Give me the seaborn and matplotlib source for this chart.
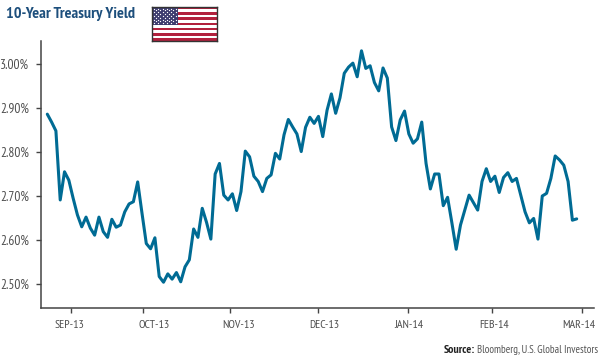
import numpy as np
import pandas as pd
import matplotlib
import matplotlib.pyplot as plt
import seaborn as sns
from matplotlib.patches import Rectangle

matplotlib.use('Agg')

# Yield, one value per trading day
yields = [
    2.886, 2.868, 2.848, 2.691, 2.755, 2.736, 2.695, 2.657, 2.630, 2.652, 2.627, 2.611,
    2.652, 2.619, 2.606, 2.647, 2.629, 2.634, 2.664, 2.682, 2.687, 2.732, 2.661, 2.592,
    2.580, 2.605, 2.517, 2.504, 2.523, 2.511, 2.526, 2.505, 2.539, 2.555, 2.625, 2.606,
    2.672, 2.640, 2.602, 2.750, 2.774, 2.702, 2.691, 2.705, 2.667, 2.710, 2.802, 2.789,
    2.745, 2.733, 2.710, 2.740, 2.748, 2.797, 2.784, 2.839, 2.874, 2.857, 2.841, 2.801,
    2.856, 2.879, 2.865, 2.881, 2.835, 2.895, 2.932, 2.888, 2.923, 2.979, 2.993, 3.002,
    2.971, 3.030, 2.990, 2.996, 2.958, 2.939, 2.991, 2.968, 2.857, 2.826, 2.873, 2.893,
    2.841, 2.820, 2.830, 2.868, 2.774, 2.716, 2.750, 2.750, 2.678, 2.697, 2.639, 2.579,
    2.634, 2.668, 2.702, 2.685, 2.668, 2.733, 2.762, 2.733, 2.745, 2.708, 2.742, 2.753,
    2.733, 2.740, 2.702, 2.664, 2.639, 2.649, 2.602, 2.700, 2.706, 2.740, 2.791, 2.782,
    2.770, 2.733, 2.645, 2.648,
]
month_labels = ['SEP-13', 'OCT-13', 'NOV-13', 'DEC-13', 'JAN-14', 'FEB-14', 'MAR-14']
month_ticks = [5.5, 22.2, 42.4, 62.9, 83.8, 103.4, 124.3]
label_ticks = [5.1, 24.8, 44.5, 64.3, 84.1, 103.9, 123.6]
yield_ticks = [2.5, 2.6, 2.7, 2.8, 2.9, 3.0]

LINE_COLOR = '#006b94'
AXIS_COLOR = '#444444'
TEXT_COLOR = '#4d4d4d'
TITLE_COLOR = '#1d4f7c'

W, H = 600, 360

sns.set_style('white')
# Condensed face like the original, plain sans if it is missing
plt.rcParams['font.family'] = ['PT Sans Narrow', 'Liberation Sans', 'DejaVu Sans']

df = pd.DataFrame({'day': np.arange(len(yields)), 'yield': yields})

fig = plt.figure(figsize=(W / 100, H / 100), dpi=100)
ax = fig.add_axes([40.5 / W, 1 - 307.7 / H, (593.7 - 40.5) / W, (307.7 - 41) / H])

sns.lineplot(data=df, x='day', y='yield', color=LINE_COLOR, linewidth=2.2, ax=ax)

ax.set(xlim=(-1.58, 126.95), ylim=(2.4461, 3.0523), xlabel='', ylabel='')
ax.set_yticks(yield_ticks, labels=[f'{v:.2f}%' for v in yield_ticks])
ax.set_xticks(month_ticks, labels=[''] * len(month_ticks))
ax.set_xticks(label_ticks, labels=month_labels, minor=True)

ax.tick_params('both', which='major', left=True, bottom=True, length=3.5, width=1.0, color=AXIS_COLOR)
ax.tick_params('x', which='minor', bottom=False, labelsize=8.6, labelcolor=TEXT_COLOR, pad=6.5)
ax.tick_params('y', labelsize=9.6, labelcolor=TEXT_COLOR, pad=5)

sns.despine(ax=ax)
for side in ['left', 'bottom']:
    ax.spines[side].set_color(AXIS_COLOR)
    ax.spines[side].set_linewidth(1.1)

fig.text(6 / W, 1 - 14 / H, '10-Year Treasury Yield', fontsize=11.6, fontweight='bold',
         color=TITLE_COLOR, ha='left', va='center')
fig.text(475 / W, 1 - 350 / H, 'Source:', fontsize=8.6, fontweight='bold',
         color='#222222', ha='right', va='center')
fig.text(477 / W, 1 - 350 / H, 'Bloomberg, U.S. Global Investors', fontsize=7.8,
         color='#555555', ha='left', va='center')

# Flag next to the title
flag = fig.add_axes([151.7 / W, 1 - 41 / H, 65 / W, 34.3 / H])
flag.set(xlim=(0, 1), ylim=(13, 0), xticks=[], yticks=[])
for i in range(13):
    flag.add_patch(Rectangle((0, i), 1, 1, color='#b2213d' if i % 2 == 0 else '#ffffff', lw=0))
flag.add_patch(Rectangle((0, 0), 0.4, 7, color='#3c3b6e', lw=0))
for row in range(9):
    cols = 6 if row % 2 == 0 else 5
    xs = (np.arange(cols) + (0.5 if row % 2 == 0 else 1.0)) * 0.4 / 6
    flag.scatter(xs, [(row + 1) * 0.7] * cols, s=0.9, color='#ffffff', linewidths=0)
for side in flag.spines.values():
    side.set_color('#333333')
    side.set_linewidth(1.0)

fig.savefig('out.png', dpi=100)
